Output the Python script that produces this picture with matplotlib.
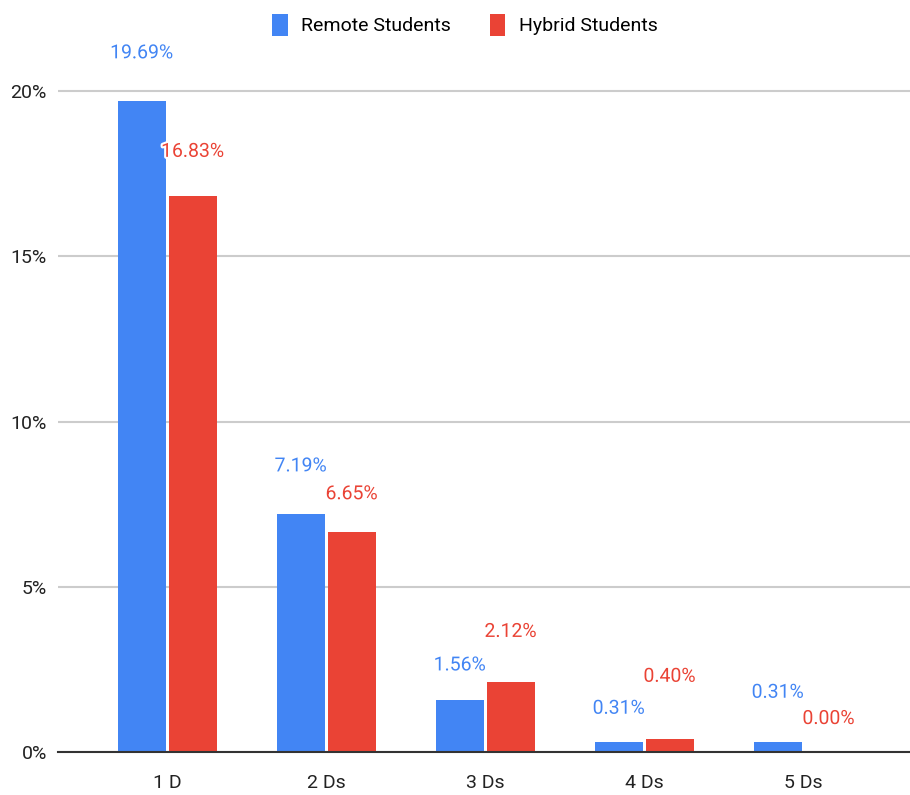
import numpy as np
import matplotlib
matplotlib.use("Agg")
import matplotlib.pyplot as plt
import matplotlib.patheffects as pe
from matplotlib import font_manager

# narrow font looks closer to the original chart
names = {f.name for f in font_manager.fontManager.ttflist}
narrow = 'Liberation Sans Narrow' if 'Liberation Sans Narrow' in names else 'Roboto'
plt.rcParams['font.family'] = [narrow, 'DejaVu Sans']
fs = 16 if narrow == 'Liberation Sans Narrow' else 14

categories = ["1 D", "2 Ds", "3 Ds", "4 Ds", "5 Ds"]
remote = [19.69, 7.19, 1.56, 0.31, 0.31]
hybrid = [16.83, 6.65, 2.12, 0.40, 0.00]
series_names = ["Remote Students", "Hybrid Students"]
yticks = [0, 5, 10, 15, 20]

blue = "#4285F4"
red = "#EA4335"

# label offsets above bar top, in pixels (google charts nudges them apart)
remote_off = [48, 48, 35, 33, 49]
hybrid_off = [44, 38, 50, 62, 33]

fig = plt.figure(figsize=(9.1, 7.95), dpi=100)
ax = fig.add_axes([0.0637, 0.0541, 0.9363, 0.8704])

x = np.arange(len(categories))
w = 0.30
b1 = ax.bar(x - 0.158, remote, w, color=blue, label=series_names[0], zorder=3)
b2 = ax.bar(x + 0.162, hybrid, w, color=red, label=series_names[1], zorder=3)

halo = [pe.withStroke(linewidth=3, foreground='white')]
for xi, v, off in zip(x, remote, remote_off):
    ax.annotate(f"{v:.2f}%", (xi - 0.158, v), xytext=(0, off), textcoords='offset pixels',
                ha='center', va='center', color=blue, fontsize=fs, zorder=4, path_effects=halo)
for xi, v, off in zip(x, hybrid, hybrid_off):
    ax.annotate(f"{v:.2f}%", (xi + 0.162, v), xytext=(0, off), textcoords='offset pixels',
                ha='center', va='center', color=red, fontsize=fs, zorder=4, path_effects=halo)

ax.set_xlim(-0.686, 4.673)
ax.set_ylim(0, 20.94)
ax.set_yticks(yticks)
ax.set_yticklabels([f"{t}%" for t in yticks])
ax.set_xticks(x)
ax.set_xticklabels(categories)
ax.tick_params(axis='both', length=0, labelsize=fs, colors='#222222')
ax.tick_params(axis='x', pad=16)
ax.tick_params(axis='y', pad=8)
ax.grid(axis='y', color='#cccccc', linewidth=1.5, zorder=0)
for s in ['top', 'right', 'left']:
    ax.spines[s].set_visible(False)
ax.spines['bottom'].set_color('#333333')
ax.spines['bottom'].set_linewidth(1.5)
ax.spines['bottom'].set_zorder(5)

fig.legend(handles=[b1, b2], labels=series_names, loc='center', bbox_to_anchor=(465 / 910, 1 - 25 / 795),
           ncol=2, frameon=False, fontsize=fs, handlelength=0.8, handleheight=1.4,
           handletextpad=0.7, columnspacing=2.0)

fig.savefig("out.png", dpi=100)
